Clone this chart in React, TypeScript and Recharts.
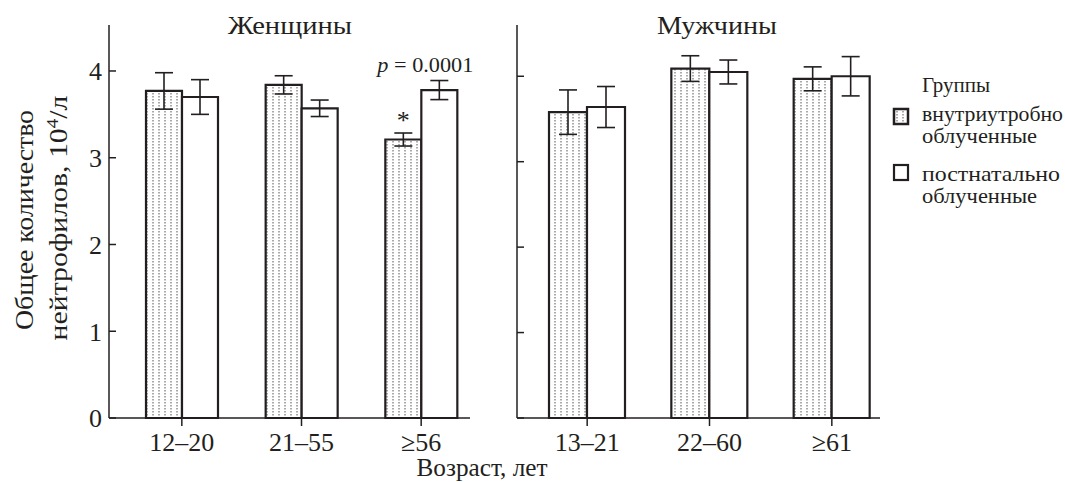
import React from 'react';
import { BarChart, Bar, XAxis, YAxis, ErrorBar, LabelList } from 'recharts';

const categoriesW = ['12–20', '21–55', '≥56'];
const womenIntra = [3.77, 3.84, 3.21];
const womenIntraErr = [0.21, 0.105, 0.075];
const womenPost = [3.7, 3.57, 3.78];
const womenPostErr = [0.2, 0.095, 0.11];
const womenMarks = ['', '', '*'];
const womenPLabels = ['', '', '0.0001'];

const categoriesM = ['13–21', '22–60', '≥61'];
const menIntra = [3.58, 4.09, 3.97];
const menIntraErr = [0.26, 0.15, 0.14];
const menPost = [3.64, 4.05, 4.0];
const menPostErr = [0.24, 0.14, 0.23];

const yTicks = [0, 1, 2, 3, 4];

const FONT = "'Liberation Serif', 'Times New Roman', serif";
const INK = '#231f20';

const womenData = categoriesW.map((c, i) => ({
  cat: c,
  a: womenIntra[i],
  aErr: womenIntraErr[i],
  b: womenPost[i],
  bErr: womenPostErr[i],
  mark: womenMarks[i],
  p: womenPLabels[i],
}));

const menData = categoriesM.map((c, i) => ({
  cat: c,
  a: menIntra[i],
  aErr: menIntraErr[i],
  b: menPost[i],
  bErr: menPostErr[i],
}));

const LeftTick = (props: any) => {
  const { x, y, payload } = props;
  return (
    <g>
      <line x1={x + 7} x2={x + 14} y1={y} y2={y} stroke={INK} strokeWidth={1.5} />
      <text x={x} y={y} dy="0.36em" textAnchor="end" fill={INK} fontSize={26} fontFamily={FONT}>
        {payload.value}
      </text>
    </g>
  );
};

const RightTick = (props: any) => {
  const { x, y } = props;
  return <line x1={x} x2={x + 7} y1={y} y2={y} stroke={INK} strokeWidth={1.5} />;
};

const StarLabel = (props: any) => {
  const { x, y, width, height, index, value } = props;
  if (!value) return null;
  const ppu = height / womenIntra[index];
  const errTop = y - womenIntraErr[index] * ppu;
  return (
    <text x={x + width / 2} y={errTop - 4} textAnchor="middle" fill={INK} fontSize={26} fontFamily={FONT}>
      {value}
    </text>
  );
};

const PLabel = (props: any) => {
  const { x, y, height, index, value } = props;
  if (!value) return null;
  const ppu = height / womenPost[index];
  const errTop = y - womenPostErr[index] * ppu;
  return (
    <text
      x={x + 4}
      y={errTop - 9}
      textAnchor="middle"
      fill={INK}
      fontSize={22}
      fontFamily={FONT}
      textLength={96}
      lengthAdjust="spacingAndGlyphs"
    >
      <tspan fontStyle="italic">p</tspan>
      <tspan> = {value}</tspan>
    </text>
  );
};

const axisLineStyle = { stroke: INK, strokeWidth: 1.5 };
const xTickStyle = { fill: INK, fontSize: 26, fontFamily: FONT };

export default function App() {
  return (
    <div style={{ position: 'absolute', left: 0, top: 0, width: 1065, height: 482, background: '#fff', fontFamily: FONT }}>
      <svg width={0} height={0} style={{ position: 'absolute' }}>
        <defs>
          <pattern id="dots" patternUnits="userSpaceOnUse" width={6} height={3}>
            <rect x={0} y={0} width={6} height={3} fill="#fff" />
            <rect x={2.5} y={0} width={1} height={1.5} fill="#555" />
          </pattern>
        </defs>
      </svg>

      <div style={{ position: 'absolute', left: 0, top: 0 }}>
        <BarChart width={480} height={482} data={womenData} margin={{ top: 25, right: 10, left: 0, bottom: 20 }} barGap={0} barSize={36}>
          <XAxis
            dataKey="cat"
            height={44}
            interval={0}
            padding={{ left: 13, right: -11 }}
            tickSize={8}
            tickMargin={7}
            axisLine={axisLineStyle}
            tickLine={{ stroke: INK, strokeWidth: 1.5 }}
            tick={xTickStyle}
          />
          <YAxis
            width={109}
            type="number"
            domain={[0, 4.53]}
            ticks={yTicks}
            tickSize={0}
            tickMargin={7}
            axisLine={axisLineStyle}
            tickLine={false}
            tick={<LeftTick />}
          />
          <Bar dataKey="a" fill="url(#dots)" stroke={INK} strokeWidth={2.2} isAnimationActive={false}>
            <ErrorBar dataKey="aErr" width={9} stroke={INK} strokeWidth={1.6} direction="y" />
            <LabelList dataKey="mark" content={<StarLabel />} />
          </Bar>
          <Bar dataKey="b" fill="#fff" stroke={INK} strokeWidth={2.2} isAnimationActive={false}>
            <ErrorBar dataKey="bErr" width={9} stroke={INK} strokeWidth={1.6} direction="y" />
            <LabelList dataKey="p" content={<PLabel />} />
          </Bar>
        </BarChart>
      </div>

      <div style={{ position: 'absolute', left: 480, top: 0 }}>
        <BarChart width={410} height={482} data={menData} margin={{ top: 25, right: 10, left: 0, bottom: 20 }} barGap={0} barSize={38}>
          <XAxis
            dataKey="cat"
            height={44}
            interval={0}
            padding={{ left: 9, right: -13 }}
            tickSize={8}
            tickMargin={7}
            axisLine={axisLineStyle}
            tickLine={{ stroke: INK, strokeWidth: 1.5 }}
            tick={xTickStyle}
          />
          <YAxis
            width={37}
            type="number"
            domain={[0, 4.6]}
            ticks={yTicks}
            tickSize={0}
            tickMargin={0}
            axisLine={axisLineStyle}
            tickLine={false}
            tick={<RightTick />}
          />
          <Bar dataKey="a" fill="url(#dots)" stroke={INK} strokeWidth={2.2} isAnimationActive={false}>
            <ErrorBar dataKey="aErr" width={9} stroke={INK} strokeWidth={1.6} direction="y" />
          </Bar>
          <Bar dataKey="b" fill="#fff" stroke={INK} strokeWidth={2.2} isAnimationActive={false}>
            <ErrorBar dataKey="bErr" width={9} stroke={INK} strokeWidth={1.6} direction="y" />
          </Bar>
        </BarChart>
      </div>

      <svg width={1065} height={482} style={{ position: 'absolute', left: 0, top: 0, pointerEvents: 'none' }} fontFamily={FONT} fill={INK}>
        <text x={290} y={34} textAnchor="middle" fontSize={25} textLength={124} lengthAdjust="spacingAndGlyphs">Женщины</text>
        <text x={717} y={34} textAnchor="middle" fontSize={25} textLength={120} lengthAdjust="spacingAndGlyphs">Мужчины</text>
        <text transform="translate(33,220) rotate(-90)" textAnchor="middle" fontSize={25} textLength={220} lengthAdjust="spacingAndGlyphs">Общее количество</text>
        <text transform="translate(67,218) rotate(-90)" textAnchor="middle" fontSize={25} textLength={245} lengthAdjust="spacingAndGlyphs">
          нейтрофилов, 10<tspan dy={-9} fontSize={16}>4</tspan><tspan dy={9}>/л</tspan>
        </text>
        <text x={482} y={476} textAnchor="middle" fontSize={25} textLength={131} lengthAdjust="spacingAndGlyphs">Возраст, лет</text>

        <text x={922} y={92} fontSize={21} textLength={68} lengthAdjust="spacingAndGlyphs">Группы</text>
        <rect x={894} y={109} width={14} height={15} fill="url(#dots)" stroke={INK} strokeWidth={2.5} />
        <text x={922} y={121} fontSize={21} textLength={141} lengthAdjust="spacingAndGlyphs">внутриутробно</text>
        <text x={922} y={143} fontSize={21} textLength={115} lengthAdjust="spacingAndGlyphs">облученные</text>
        <rect x={894} y={165} width={14} height={15} fill="#fff" stroke={INK} strokeWidth={2.2} />
        <text x={922} y={181} fontSize={21} textLength={138} lengthAdjust="spacingAndGlyphs">постнатально</text>
        <text x={922} y={203} fontSize={21} textLength={115} lengthAdjust="spacingAndGlyphs">облученные</text>
      </svg>
    </div>
  );
}
